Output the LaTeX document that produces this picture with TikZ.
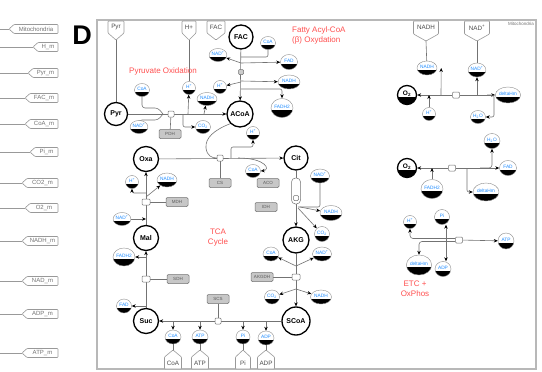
\documentclass[tikz,border=0pt]{standalone}
\usepackage{fontspec}
\setmainfont{Liberation Sans}
\usetikzlibrary{arrows.meta,shapes.geometric,calc}
\definecolor{mblue}{RGB}{30,140,255}
\definecolor{lred}{RGB}{255,80,80}
\newcommand{\fs}[1]{\fontsize{#1}{#1}\selectfont}
\pgfdeclarelayer{back}
\pgfdeclarelayer{bg}
\pgfsetlayers{back,bg,main}
\newcommand{\mylefttag}[4]{%
  \draw[tagl] (58,{#2-4.5}) -- (58,{#2+4.5}) -- ({58-#3+5},{#2+4.5}) -- ({58-#3},#2) -- ({58-#3+5},{#2-4.5}) -- cycle;
  \node[tagt] (#1) at ({58-#3/2+2.5},#2) {#4};
  \draw[tagl] (0,#2) -- ({58-#3},#2);}
\newcommand{\mydowntag}[5]{%
  \draw[tagl] ({#2-#3/2},21) -- ({#2+#3/2},21) -- ({#2+#3/2},#5) -- (#2,{#5+7}) -- ({#2-#3/2},#5) -- cycle;
  \node[tagt,font=\fs{6.3},text=black!70] (#1txt) at (#2,{(21+#5)/2}) {#4};
  \coordinate (#1) at (#2,{#5+7});}
\newcommand{\myuptag}[4]{%
  \draw[tagl] ({#2-#3/2},369) -- ({#2+#3/2},369) -- ({#2+#3/2},357) -- (#2,350) -- ({#2-#3/2},357) -- cycle;
  \node[tagt,font=\fs{6.3},text=black!70] (#1txt) at (#2,363.5) {#4};
  \coordinate (#1) at (#2,350);}
\begin{document}
\begin{tikzpicture}[x=1pt,y=-1pt,
 met/.style={ellipse, draw=black!45, line width=0.4pt, fill=white, inner sep=0pt,
   minimum width=14pt, minimum height=13pt, font=\fs{4.8}, text=mblue,
   text height=3.4pt, text depth=3pt,
   path picture={\fill[black] ([yshift=-2.4pt]path picture bounding box.west) rectangle (path picture bounding box.south east);}},
 sp/.style={circle, draw=black, line width=1.3pt, fill=white, minimum size=24pt, inner sep=0pt, font=\fs{7}\bfseries},
 o2/.style={met, draw=black, line width=1.3pt, minimum size=19pt, font=\fs{6.5}\bfseries, text=black, text height=4.6pt, text depth=3pt},
 enz/.style={rectangle, rounded corners=1.2pt, draw=black!55, fill=black!22, line width=0.5pt, minimum width=22pt, minimum height=9pt, inner sep=0pt, font=\fs{4.5}, text=black!65},
 rxn/.style={rectangle, rounded corners=1pt, draw=black!55, fill=white, line width=0.5pt, minimum width=6pt, minimum height=6pt, inner sep=0pt},
 ln/.style={draw=black!55, line width=0.6pt},
 arr/.style={ln, -{Stealth[length=4pt,width=3.4pt,color=black]}},
 arrb/.style={ln, {Stealth[length=4pt,width=3.4pt,color=black]}-{Stealth[length=4pt,width=3.4pt,color=black]}},
 tagl/.style={draw=black!40, line width=0.6pt, fill=white, rounded corners=0.8pt},
 tagt/.style={font=\fs{6}, text=black!55, inner sep=0pt},
 lbl/.style={font=\fontsize{8}{10}\selectfont, text=lred, inner sep=0pt},
]
\useasboundingbox (0,0) rectangle (542,372);
\begin{pgfonlayer}{back}
\fill[white] (0,0) rectangle (542,372);
\end{pgfonlayer}

% frame
\draw[black!28, line width=1.6pt] (97,20) rectangle (536,369);
\node[font=\fs{27}\bfseries, inner sep=0pt] (D) at (82,35) {D};
\node[font=\fs{4.5}, text=black!55, inner sep=0pt] (mito) at (521,24) {Mitochondria};

% left tags
\mylefttag{tMito}{29}{49}{Mitochondria}
\mylefttag{tHm}{47}{25}{H\_m}
\mylefttag{tPyrm}{73}{30}{Pyr\_m}
\mylefttag{tFACm}{98}{33}{FAC\_m}
\mylefttag{tCoAm}{124}{33}{CoA\_m}
\mylefttag{tPim}{152}{28}{Pi\_m}
\mylefttag{tCOm}{183}{36}{CO2\_m}
\mylefttag{tOm}{208}{33}{O2\_m}
\mylefttag{tNADHm}{241}{36}{NADH\_m}
\mylefttag{tNADm}{281}{36}{NAD\_m}
\mylefttag{tADPm}{314}{36}{ADP\_m}
\mylefttag{tATPm}{353}{36}{ATP\_m}

% top / bottom tags
\mydowntag{tPyr}{116}{16}{Pyr}{33}
\mydowntag{tH}{189}{14}{H+}{33}
\mydowntag{tFAC}{216}{18}{FAC}{33}
\mydowntag{tNADH}{426}{25}{NADH}{34}
\mydowntag{tNADp}{477}{25}{NAD\textsuperscript{+}}{34}
\myuptag{tCoA}{173}{17}{CoA}
\myuptag{tATP}{200}{17}{ATP}
\myuptag{tPi}{243}{15}{Pi}
\myuptag{tADP}{266}{17}{ADP}

% red labels
\node[lbl] (lPO) at (163,71) {Pyruvate Oxidation};
\node[lbl, align=left, anchor=west] (lFA) at (292,35.5) {Fatty Acyl-CoA\\(β) Oxydation};
\node[lbl, align=center] (lTCA) at (218,238) {TCA\\Cycle};
\node[lbl, align=center] (lETC) at (415,289) {ETC +\\OxPhos};

% main species
\node[sp] (FAC) at (241,37) {FAC};
\node[sp, minimum size=23pt] (Pyr) at (116,114) {Pyr};
\node[sp, minimum size=26pt] (ACoA) at (240,114) {ACoA};
\node[sp, minimum size=25pt] (Oxa) at (146,159) {Oxa};
\node[sp] (Cit) at (296,158) {Cit};
\node[sp, minimum size=26pt] (AKG) at (296,240) {AKG};
\node[sp, minimum size=28pt] (SCoA) at (296,321) {SCoA};
\node[sp, minimum size=25pt] (Suc) at (146,321) {Suc};
\node[sp, minimum size=25pt] (Mal) at (146,238) {Mal};

% pyruvate oxidation
\node[met, minimum width=15pt] (CoAp) at (142,90) {CoA};
\node[met, minimum width=13pt] (Hp1) at (189,88) {H\textsuperscript{+}};
\node[met, minimum width=20pt] (NADHp) at (207,99) {NADH};
\node[met, minimum width=13pt] (Hf) at (220,87) {H\textsuperscript{+}};
\node[met, minimum width=17pt] (NADpp) at (139,127) {NAD\textsuperscript{+}};
\node[met, minimum width=15pt] (CO2p) at (203,127) {CO\textsubscript{2}};
% fatty acid oxidation
\node[met, minimum width=17pt] (NADpf) at (218,55) {NAD\textsuperscript{+}};
\node[met, minimum width=15pt] (CoAf) at (268,43) {CoA};
\node[met, minimum width=17pt, minimum height=15pt] (FADf) at (289,62) {FAD};
\node[met, minimum width=22pt, minimum height=14pt] (NADHf) at (289,82) {NADH};
\node[met, minimum width=22pt, minimum height=19pt] (FADH2f) at (282,108) {FADH2};
% CS
\node[met, minimum width=13pt] (Hcs) at (253,133) {H\textsuperscript{+}};
\node[met, minimum width=15pt] (CoAcs) at (253,171) {CoA};
% IDH
\node[met, minimum width=19pt, minimum height=14pt] (NADpi) at (320,176) {NAD\textsuperscript{+}};
\node[met, minimum width=22pt, minimum height=15pt] (NADHi) at (331,213) {NADH};
\node[met, minimum width=15pt, minimum height=15pt] (CO2i) at (322,234) {CO\textsubscript{2}};
% AKGDH
\node[met, minimum width=16pt, minimum height=14pt] (CoAa) at (271,254) {CoA};
\node[met, minimum width=19pt, minimum height=14pt] (NADpa) at (322,254) {NAD\textsuperscript{+}};
\node[met, minimum width=15pt, minimum height=14pt] (CO2a) at (272,297) {CO\textsubscript{2}};
\node[met, minimum width=21pt, minimum height=14pt] (NADHa) at (321,297) {NADH};
% SCS
\node[met, minimum width=16pt, minimum height=14pt] (CoAs) at (173,337) {CoA};
\node[met, minimum width=16pt, minimum height=14pt] (ATPs) at (200,337) {ATP};
\node[met, minimum width=14pt, minimum height=14pt] (Pis) at (243,337) {Pi};
\node[met, minimum width=16pt, minimum height=14pt] (ADPs) at (266,338) {ADP};
% SDH
\node[met, minimum width=22pt, minimum height=18pt] (FADH2s) at (124,257) {FADH2};
\node[met, minimum width=15pt, minimum height=14pt] (FADs) at (124,306) {FAD};
% MDH
\node[met, minimum width=13pt] (Hm) at (132,182) {H\textsuperscript{+}};
\node[met, minimum width=20pt, minimum height=14pt] (NADHm) at (167,180) {NADH};
\node[met, minimum width=17pt] (NADpm) at (122,219) {NAD\textsuperscript{+}};
% ETC top
\node[o2] (O2a) at (407,95) {O\textsubscript{2}};
\node[met, minimum width=20pt, minimum height=14pt] (NADHa2) at (427,68) {NADH};
\node[met, minimum width=17pt, minimum height=14pt] (NADpa2) at (477,70) {NAD\textsuperscript{+}};
\node[met, minimum width=24pt, minimum height=16pt] (dHa) at (508,95) {deltaHm};
\node[met, minimum width=15pt] (H2Oa) at (478,117) {H\textsubscript{2}O};
\node[met, minimum width=13pt] (Ha) at (429,114) {H\textsuperscript{+}};
% ETC middle
\node[o2] (O2b) at (407,168) {O\textsubscript{2}};
\node[met, minimum width=16pt, minimum height=15pt] (H2Ob) at (492,141) {H\textsubscript{2}O};
\node[met, minimum width=17pt, minimum height=15pt] (FADb) at (508,168) {FAD};
\node[met, minimum width=22pt, minimum height=19pt] (FADH2b) at (432,189) {FADH2};
\node[met, minimum width=26pt, minimum height=18pt] (dHb) at (486,192) {deltaHm};
% ETC low
\node[met, minimum width=13pt] (Hc) at (410,222) {H\textsuperscript{+}};
\node[met, minimum width=15pt, minimum height=15pt] (Pic) at (442,217) {Pi};
\node[met, minimum width=16pt, minimum height=16pt] (ATPc) at (506,241) {ATP};
\node[met, minimum width=25pt, minimum height=20pt] (dHc) at (419,265) {deltaHm};
\node[met, minimum width=16pt, minimum height=15pt] (ADPc) at (443,269) {ADP};

% enzymes
\node[enz] (PDH) at (170,134) {PDH};
\node[enz] (CS) at (220,183) {CS};
\node[enz] (ACO) at (268,183) {ACO};
\node[enz] (IDH) at (266,207) {IDH};
\node[enz] (AKGDH) at (262,277) {AKGDH};
\node[enz] (SCS) at (218,299) {SCS};
\node[enz] (SDH) at (178,279) {SDH};
\node[enz] (MDH) at (177,202) {MDH};

% reaction glyphs
\node[rxn] (rxnP) at (171,114) {};
\node[rxn, fill=black!20, minimum size=5pt] (rxnF) at (241,72) {};
\node[rxn] (rxnCS) at (220,158) {};
\node[rxn, minimum width=9pt, minimum height=26pt, rounded corners=4pt] (capI) at (296,191) {};
\node[rxn, minimum size=5pt] (rxnI) at (296,198) {};
\node[rxn, minimum width=8pt] (rxnA2) at (296,277) {};
\node[rxn] (rxnSC) at (218,321) {};
\node[rxn, minimum width=8pt] (rxnS) at (146,279) {};
\node[rxn, minimum width=8pt] (rxnM) at (146,202) {};
\node[rxn, minimum width=7pt] (rxnEa) at (456,95) {};
\node[rxn, minimum width=7pt] (rxnEb) at (452,168) {};
\node[rxn, minimum width=7pt] (rxnEc) at (459,240) {};

\begin{pgfonlayer}{bg}
% tag links
\draw[ln] (tPyr) -- (Pyr);
\draw[ln] (tH) -- (Hp1);
\draw[ln] (tNADH) -- (NADHa2);
\draw[ln] (tNADp) -- (NADpa2);
\draw[ln] (tCoA) -- (CoAs);
\draw[ln] (tATP) -- (ATPs);
\draw[ln] (tPi) -- (Pis);
\draw[ln] (tADP) -- (ADPs);
% pyruvate oxidation
\draw[arr] (Pyr) -- (ACoA);
\draw[ln] (rxnP) -- (PDH);
\draw[ln, rounded corners=3pt] (CoAp.south) |- (158,108) -- (163,114);
\draw[ln, rounded corners=3pt] (NADpp.north) |- (158,120) -- (163,114);
\draw[arr] (188,114) -- (Hp1);
\draw[arr] (204,114) -- (NADHp);
\draw[arr, rounded corners=2pt] (183,114) |- (CO2p.west);
% fatty acid oxidation
\draw[arr] (FAC) -- (ACoA);
\draw[ln, rounded corners=2pt] (241,57) -| (CoAf.south);
\draw[arr] (241,63) -- (NADpf);
\draw[arr] (241,63) -- (FADf);
\draw[arr] (241,81) -- (NADHf);
\draw[arr] (241,82) -- (Hf);
\draw[arr, rounded corners=2pt] (241,89) -| (FADH2f.north);
% citrate synthase
\draw[arr] (Oxa) -- (Cit);
\draw[ln] (rxnCS) -- (CS);
\draw[ln] (ACoA.south west) .. controls (214,130) and (205,138) .. (206,148) .. controls (207,156) and (212,158) .. (rxnCS.west);
\draw[arr, rounded corners=2pt] (231,158) |- (253,147) -- (Hcs.south);
\draw[arr] (238,158) .. controls (266,158) and (271,170) .. (CoAcs.east);
% aconitase / IDH
\draw[arr] (Cit) -- (AKG);
\draw[ln, rounded corners=2pt] (NADpi.south) |- (298,207);
\draw[arr] (300,207) -- (NADHi);
\draw[arr] (298,208) -- (CO2i);
% AKGDH
\draw[arr] (AKG) -- (SCoA);
\draw[ln] (AKGDH) -- (rxnA2);
\draw[arr] (296,266) -- (CoAa);
\draw[arr] (296,266) -- (NADpa);
\draw[arr] (296,289) -- (CO2a);
\draw[arr] (296,289) -- (NADHa);
% SCS
\draw[arr] (SCoA) -- (Suc);
\draw[ln] (SCS) -- (rxnSC);
\draw[arr] (CoAs.north |- Suc.east) -- (CoAs.north);
\draw[arr] (ATPs.north |- Suc.east) -- (ATPs.north);
\draw[arr] (Pis.north |- Suc.east) -- (Pis.north);
\draw[arr] (ADPs.north |- Suc.east) -- (ADPs.north);
% SDH
\draw[arr] (Suc) -- (Mal);
\draw[ln] (rxnS) -- (SDH);
\draw[arr] (FADH2s.east -| Mal.south) -- (FADH2s.east);
\draw[arr] (FADs.east -| Suc.north) -- (FADs.east);
% MDH
\draw[arr] (Mal) -- (Oxa);
\draw[ln] (rxnM) -- (MDH);
\draw[arr] (NADpm.east) -- (NADpm.east -| Mal.north);
\draw[arr, rounded corners=2pt] (146,193) -| (Hm.south);
\draw[arr] (146,197) -- (NADHm);
% ETC top
\draw[arr] (rxnEa) -- (O2a);
\draw[arr] (rxnEa) -- (dHa);
\draw[arr] (441,95) -- ([xshift=4pt]NADHa2.east);
\draw[arr] (NADpa2.south |- rxnEa) -- (NADpa2.south);
\draw[arr, rounded corners=2pt] (487,95) -| (494,117) -- (H2Oa.east);
\draw[arr] (Ha.north) -- (Ha.north |- rxnEa);
% ETC middle
\draw[arr] (rxnEb) -- (O2b);
\draw[arr] (rxnEb) -- (FADb);
\draw[arr] (FADH2b.north) -- (FADH2b.north |- rxnEb);
\draw[arr, rounded corners=3pt] (480,168) -| (H2Ob.south);
\draw[arr, rounded corners=2pt] (467,168) |- (dHb.west);
% ETC low
\draw[arr] (rxnEc) -- (ATPc);
\draw[arr, rounded corners=3pt] ([yshift=1.5pt]rxnEc.west) -| (Hc.south);
\draw[arr, rounded corners=3pt] ([yshift=-1.5pt]rxnEc.west) -| (dHc.north);
\draw[arrb] ([xshift=4pt]Pic.south) -- ([xshift=3pt]ADPc.north);
\end{pgfonlayer}
\end{tikzpicture}
\end{document}
